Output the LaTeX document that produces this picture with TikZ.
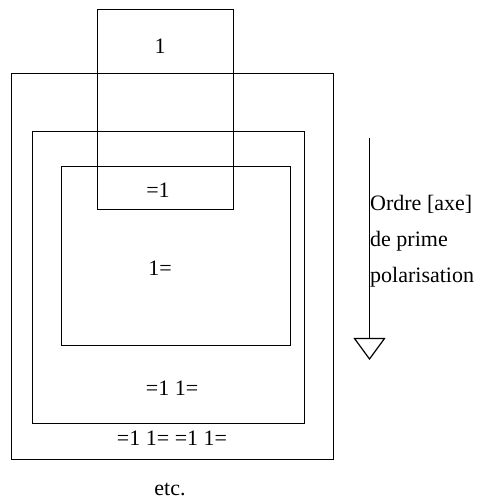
\documentclass[tikz,border=0pt]{standalone}
\usepackage{fontspec}
\setmainfont{Liberation Serif}
\begin{document}
\begin{tikzpicture}[x=1pt,y=-1pt,
  frame/.style={draw=black,line width=1.2pt},
  lbl/.style={anchor=base,inner sep=0pt,font=\fontsize{22}{26}\selectfont},
  axislbl/.style={anchor=base west,inner sep=0pt,font=\fontsize{22}{26}\selectfont}]
\useasboundingbox (0,0) rectangle (478,499);
% nested frames
\draw[frame] (11.5,73.5) rectangle (333.5,459.5);
\draw[frame] (32.5,131.5) rectangle (304.5,423.5);
\draw[frame] (61.5,166.5) rectangle (290.5,345.5);
\draw[frame] (97.5,9.5) rectangle (233.5,209.5);
% labels inside the frames
\node[lbl] (one) at (160,53) {1};
\node[lbl] (eqone) at (158,197) {=1};
\node[lbl] (oneeq) at (160,275) {1=};
\node[lbl] (pair) at (172,395) {=1 1=};
\node[lbl] (pairs) at (172,445) {=1 1= =1 1=};
\node[lbl] (etc) at (170,495) {etc.};
% polarisation axis
\coordinate (axtop) at (369.5,138);
\coordinate (axend) at (369.5,338.5);
\coordinate (tipl) at (354.5,338.5);
\coordinate (tipr) at (384.5,338.5);
\coordinate (tip) at (369.5,359);
\draw[line width=1.2pt] (axtop) -- (axend);
\draw[line width=1.2pt,line join=miter] (tipl) -- (tipr) -- (tip) -- cycle;
\node[axislbl] (ax1) at (370,210) {Ordre [axe]};
\node[axislbl] (ax2) at (370,246) {de prime};
\node[axislbl] (ax3) at (370,282) {polarisation};
\end{tikzpicture}
\end{document}
